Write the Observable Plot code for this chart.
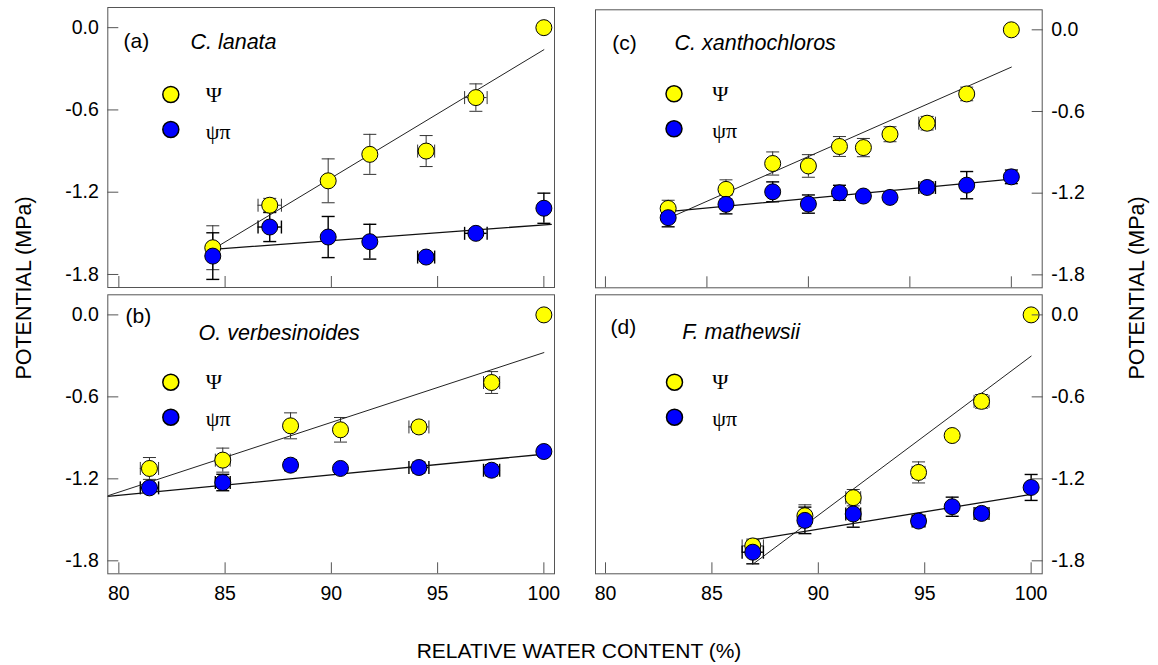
<!DOCTYPE html>
<html><head><meta charset="utf-8">
<script src="https://cdn.jsdelivr.net/npm/d3@7"></script>
<script src="https://cdn.jsdelivr.net/npm/@observablehq/plot@0.6"></script>
<style>
body{margin:0;background:#fff;}
#wrap{position:relative;width:1158px;height:665px;font-family:"Liberation Sans",Arial,sans-serif;overflow:hidden;background:#fff}
.p{position:absolute}
.ylab{position:absolute;font-size:21.5px;white-space:nowrap;transform:translate(-50%,-50%) rotate(-90deg);color:#000}
.xlab{position:absolute;font-size:21px;white-space:nowrap;transform:translate(-50%,-50%);color:#000}
</style></head><body><div id="wrap"></div>
<script>
// ---- data ----
// (a) C. lanata
const rwcA = [84.42, 87.1, 89.85, 91.81, 94.46, 96.8, 100];
const psiA = [-1.605, -1.295, -1.117, -0.924, -0.9, -0.51, 0];
const psiErrA = [0.16, 0.05, 0.16, 0.146, 0.113, 0.1, 0];
const piA = [-1.666, -1.454, -1.527, -1.561, -1.673, -1.5, -1.317];
const piErrA = [0.17, 0.106, 0.15, 0.127, 0.03, 0.03, 0.11];
const xErrA = [0, 0.55, 0, 0, 0.4, 0.53, 0];
const psiFitXA = [84.42, 100], psiFitYA = [-1.617, -0.161];
const piFitXA = [84.42, 100.35], piFitYA = [-1.617, -1.434];
// (b) O. verbesinoides
const rwcB = [81.44, 84.89, 88.08, 90.43, 94.12, 97.54, 100];
const psiB = [-1.124, -1.063, -0.812, -0.841, -0.82, -0.495, 0];
const psiErrB = [0.08, 0.088, 0.095, 0.09, 0.04, 0.08, 0];
const piB = [-1.266, -1.227, -1.1, -1.124, -1.117, -1.137, -1.0];
const piErrB = [0.03, 0.06, 0.04, 0.03, 0.04, 0.04, 0.03];
const xErrB = [0.43, 0.35, 0, 0, 0.47, 0.38, 0];
const psiFitXB = [79.48, 100], psiFitYB = [-1.324, -0.276];
const piFitXB = [79.48, 100], piFitYB = [-1.329, -1.02];
// (c) C. xanthochloros
const rwcC = [83.09, 85.94, 88.24, 90.0, 91.53, 92.71, 94.02, 95.85, 97.8, 100];
const psiC = [-1.312, -1.172, -0.982, -1.0, -0.857, -0.865, -0.767, -0.686, -0.471, 0];
const psiErrC = [0.06, 0.07, 0.085, 0.083, 0.073, 0.067, 0.055, 0.05, 0.05, 0];
const piC = [-1.38, -1.282, -1.19, -1.28, -1.197, -1.221, -1.231, -1.158, -1.141, -1.08];
const piErrC = [0.067, 0.07, 0.073, 0.067, 0.055, 0.03, 0.03, 0.04, 0.1, 0.05];
const xErrC = [0, 0, 0, 0, 0, 0, 0, 0.41, 0, 0];
const psiFitXC = [83.09, 100], psiFitYC = [-1.385, -0.274];
const piFitXC = [83.09, 100], piFitYC = [-1.336, -1.097];
// (d) F. mathewsii
const rwcD = [86.92, 89.37, 91.64, 94.71, 96.29, 97.67, 100];
const psiD = [-1.691, -1.47, -1.338, -1.153, -0.883, -0.633, 0];
const psiErrD = [0.05, 0.08, 0.06, 0.077, 0, 0.05, 0];
const piD = [-1.737, -1.504, -1.457, -1.509, -1.404, -1.453, -1.263];
const piErrD = [0.085, 0.097, 0.097, 0.04, 0.07, 0.04, 0.095];
const xErrD = [0.5, 0, 0.35, 0.3, 0, 0.35, 0];
const psiFitXD = [86.92, 100], psiFitYD = [-1.825, -0.302];
const piFitXD = [86.92, 100], piFitYD = [-1.647, -1.314];

const yTicks = [0, -0.6, -1.2, -1.8];
const xTicks = [80, 85, 90, 95, 100];
const legendLabels = ["\u03A8", "\u03C8\u03C0"];
const tags = ["(a)", "(b)", "(c)", "(d)"];
const species = ["C. lanata", "O. verbesinoides", "C. xanthochloros", "F. mathewsii"];
const xTitle = "RELATIVE WATER CONTENT (%)";
const yTitle = "POTENTIAL (MPa)";

// ---- drawing ----
const hcap = {draw(ctx) { ctx.moveTo(-6.5, 0); ctx.lineTo(6.5, 0); }};
const vcap = {draw(ctx) { ctx.moveTo(0, -6.5); ctx.lineTo(0, 6.5); }};
const FONT = '"Liberation Sans", Arial, sans-serif';
const SERIF = '"Liberation Serif", "Times New Roman", serif';

function panel(o) {
  const pts = o.rwc.map((x, i) => ({x, psi: o.psi[i], psiErr: o.psiErr[i], pi: o.pi[i], piErr: o.piErr[i], xErr: o.xErr[i]}));
  const fit = (xs, ys) => xs.map((x, i) => ({x, y: ys[i]}));
  const vBars = (key, ekey) => pts.filter(d => d[ekey] > 0);
  const vCaps = (key, ekey) => vBars(key, ekey).flatMap(d => [{x: d.x, y: d[key] - d[ekey]}, {x: d.x, y: d[key] + d[ekey]}]);
  const hB = pts.filter(d => d.xErr > 0);
  const hCaps = key => hB.flatMap(d => [{x: d.x - d.xErr, y: d[key]}, {x: d.x + d.xErr, y: d[key]}]);
  const side = o.side;
  const marks = [
    // error bars
    Plot.ruleX(vBars("psi", "psiErr"), {x: "x", y1: d => d.psi - d.psiErr, y2: d => d.psi + d.psiErr, stroke: "#333", strokeWidth: 1}),
    Plot.dot(vCaps("psi", "psiErr"), {x: "x", y: "y", symbol: hcap, r: 6, fill: "none", stroke: "#333", strokeWidth: 1}),
    Plot.ruleY(hB, {y: "psi", x1: d => d.x - d.xErr, x2: d => d.x + d.xErr, stroke: "#333", strokeWidth: 1}),
    Plot.dot(hCaps("psi"), {x: "x", y: "y", symbol: vcap, r: 6, fill: "none", stroke: "#333", strokeWidth: 1}),
    Plot.ruleX(vBars("pi", "piErr"), {x: "x", y1: d => d.pi - d.piErr, y2: d => d.pi + d.piErr, stroke: "#000", strokeWidth: 1.4}),
    Plot.dot(vCaps("pi", "piErr"), {x: "x", y: "y", symbol: hcap, r: 6, fill: "none", stroke: "#000", strokeWidth: 1.4}),
    Plot.ruleY(hB, {y: "pi", x1: d => d.x - d.xErr, x2: d => d.x + d.xErr, stroke: "#000", strokeWidth: 1.4}),
    Plot.dot(hCaps("pi"), {x: "x", y: "y", symbol: vcap, r: 6, fill: "none", stroke: "#000", strokeWidth: 1.4}),
    // fit lines
    Plot.line(fit(o.psiFitX, o.psiFitY), {x: "x", y: "y", stroke: "#222", strokeWidth: 1, clip: true}),
    Plot.line(fit(o.piFitX, o.piFitY), {x: "x", y: "y", stroke: "#111", strokeWidth: 1.3, clip: true}),
    // points
    Plot.dot(pts, {x: "x", y: "psi", r: 8, fill: "#ffff00", stroke: "#000", strokeWidth: 1}),
    Plot.dot(pts, {x: "x", y: "pi", r: 8, fill: "#0000ff", stroke: "#000", strokeWidth: 1}),
    // frame
    Plot.frame({stroke: "#555", strokeWidth: 1}),
    // axes: inward ticks
    Plot.axisY(yTicks, {anchor: side, tickSize: 11, dx: side === "left" ? 11 : -11, fill: "none", stroke: "#555", label: null}),
    Plot.axisY(yTicks, {anchor: side, tickSize: 0, tickPadding: 9, tickFormat: d => d.toFixed(1), fontSize: 19.5, fill: "#000", label: null}),
    Plot.axisX(xTicks, {anchor: "bottom", tickSize: 11, dy: -11, fill: "none", stroke: "#555", label: null}),
    // legend
    Plot.dot([0], {frameAnchor: "top-left", dx: o.leg[0], dy: o.leg[1], r: 8, fill: "#ffff00", stroke: "#000"}),
    Plot.dot([0], {frameAnchor: "top-left", dx: o.leg[0], dy: o.leg[1] + 35, r: 8, fill: "#0000ff", stroke: "#000"}),
    Plot.text([legendLabels[0]], {frameAnchor: "top-left", dx: o.leg[2], dy: o.leg[1], text: d => d, textAnchor: "start", lineAnchor: "middle", fontFamily: SERIF, fontSize: 22, fill: "#000"}),
    Plot.text([legendLabels[1]], {frameAnchor: "top-left", dx: o.leg[2], dy: o.leg[1] + 37, text: d => d, textAnchor: "start", lineAnchor: "middle", fontFamily: SERIF, fontSize: 22, fill: "#000"}),
    // labels
    Plot.text([o.tag], {frameAnchor: "top-left", dx: o.tagPos[0], dy: o.tagPos[1], text: d => d, textAnchor: "start", lineAnchor: "middle", fontSize: 21, fill: "#000"}),
    Plot.text([o.species], {frameAnchor: "top-left", dx: o.spPos[0], dy: o.spPos[1], text: d => d, textAnchor: "start", lineAnchor: "middle", fontSize: 21.5, fontStyle: "italic", fill: "#000"})
  ];
  if (o.showX) marks.push(Plot.axisX(xTicks, {anchor: "bottom", tickSize: 0, tickPadding: 12, tickFormat: d => String(d), fontSize: 19.5, fill: "#000", label: null}));
  const svg = Plot.plot({
    width: o.width, height: o.height,
    marginLeft: o.m[0], marginRight: o.m[1], marginTop: o.m[2], marginBottom: o.m[3],
    x: {domain: o.xDomain},
    y: {domain: [-1.895, 0.147]},
    style: {fontFamily: FONT, fontSize: "19px", background: "transparent", color: "#000", overflow: "visible"},
    marks
  });
  svg.classList.add("p");
  svg.style.left = o.left + "px";
  svg.style.top = o.top + "px";
  return svg;
}

const wrap = document.getElementById("wrap");
wrap.appendChild(panel({rwc: rwcA, psi: psiA, psiErr: psiErrA, pi: piA, piErr: piErrA, xErr: xErrA,
  psiFitX: psiFitXA, psiFitY: psiFitYA, piFitX: piFitXA, piFitY: piFitYA,
  xDomain: [79.48, 100.5], side: "left", showX: false, tag: tags[0], species: species[0],
  left: 0, top: 0, width: 579, height: 290, m: [107.3, 25, 7, 3],
  leg: [63, 87, 98], tagPos: [15.7, 34], spPos: [82.7, 35]}));
wrap.appendChild(panel({rwc: rwcB, psi: psiB, psiErr: psiErrB, pi: piB, piErr: piErrB, xErr: xErrB,
  psiFitX: psiFitXB, psiFitY: psiFitYB, piFitX: piFitXB, piFitY: piFitYB,
  xDomain: [79.48, 100.5], side: "left", showX: true, tag: tags[1], species: species[1],
  left: 0, top: 290, width: 579, height: 320, m: [107.3, 25, 4.3, 36.7],
  leg: [63, 87.4, 98], tagPos: [17.7, 21.4], spPos: [90.7, 38.7]}));
wrap.appendChild(panel({rwc: rwcC, psi: psiC, psiErr: psiErrC, pi: piC, piErr: piErrC, xErr: xErrC,
  psiFitX: psiFitXC, psiFitY: psiFitYC, piFitX: piFitXC, piFitY: piFitYC,
  xDomain: [79.51, 101.52], side: "right", showX: false, tag: tags[2], species: species[2],
  left: 579, top: 0, width: 579, height: 290, m: [16, 116.3, 9.3, 2.7],
  leg: [78.5, 84, 116.7], tagPos: [16.7, 33.4], spPos: [79, 33.4]}));
wrap.appendChild(panel({rwc: rwcD, psi: psiD, psiErr: psiErrD, pi: piD, piErr: piErrD, xErr: xErrD,
  psiFitX: psiFitXD, psiFitY: psiFitYD, piFitX: piFitXD, piFitY: piFitYD,
  xDomain: [79.53, 100.52], side: "right", showX: true, tag: tags[3], species: species[3],
  left: 579, top: 290, width: 579, height: 320, m: [16, 116.3, 4.3, 36.7],
  leg: [79, 87.4, 116.7], tagPos: [15, 32.4], spPos: [86.7, 37.4]}));

function addLabel(cls, text, x, y) {
  const d = document.createElement("div");
  d.className = cls; d.textContent = text;
  d.style.left = x + "px"; d.style.top = y + "px";
  wrap.appendChild(d);
}
addLabel("ylab", yTitle, 24, 288);
addLabel("ylab", yTitle, 1137, 288);
addLabel("xlab", xTitle, 579, 651);
</script></body></html>
